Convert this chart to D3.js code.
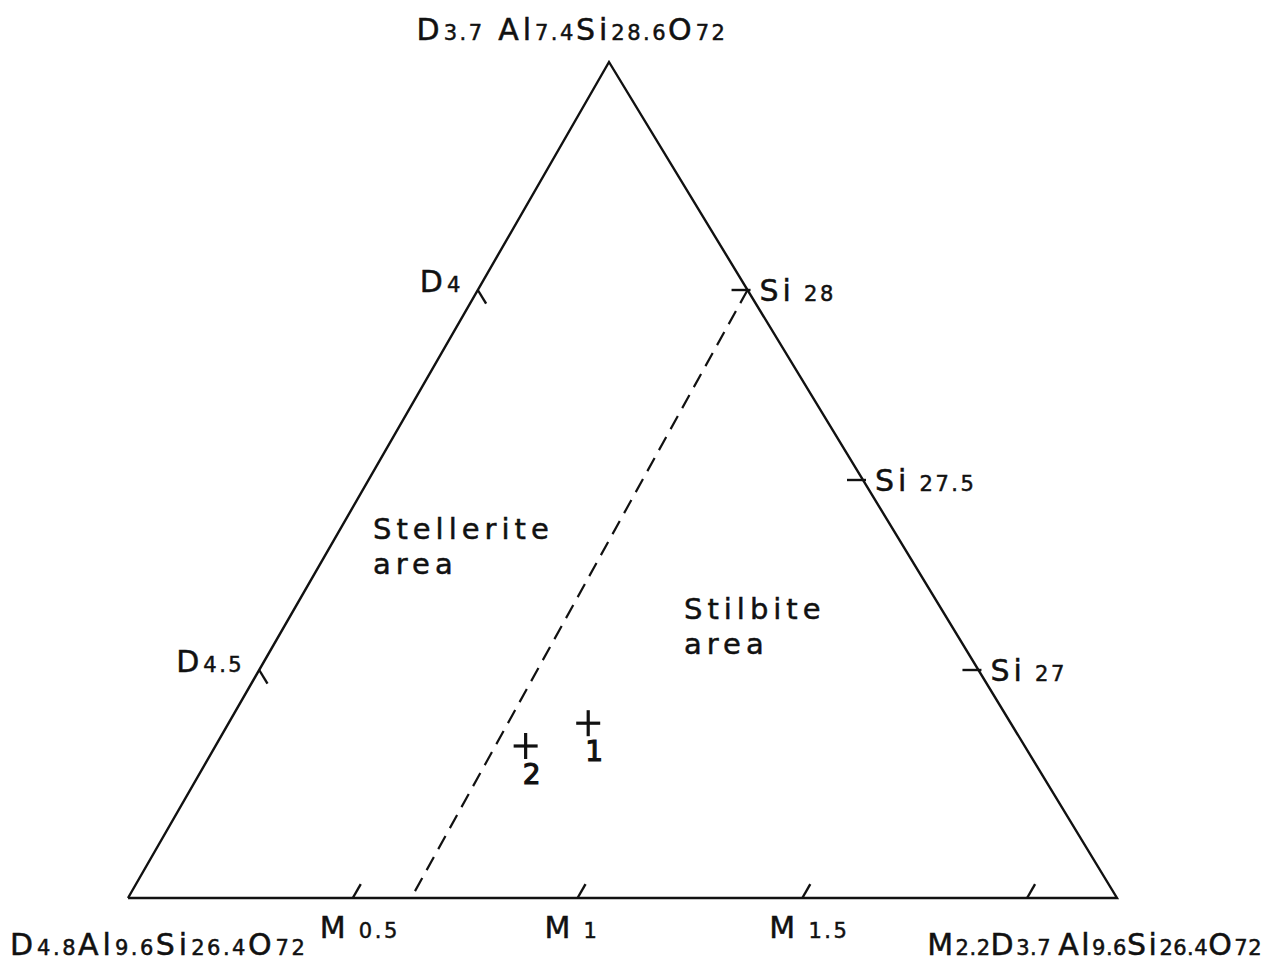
<!DOCTYPE html>
<html>
<head>
<meta charset="utf-8">
<script src="https://cdn.jsdelivr.net/npm/d3@7"></script>
<style>
  body { margin: 0; background: #fff; }
  text { font-family: "DejaVu Sans", sans-serif; fill: #111; stroke: #111; stroke-width: 0.5px; }
</style>
</head>
<body>
<div id="chart"></div>
<script>
// axis values along each side of the triangle
const mTicks = [0.5, 1, 1.5, 2];
const mTickLabels = ["0.5", "1", "1.5", ""];
const dTicks = [4.5, 4];
const dTickLabels = ["4.5", "4"];
const siTicks = [27, 27.5, 28];
const siTickLabels = ["27", "27.5", "28"];

// analysed samples (M and Si per 72 O)
const sampleIds = ["1", "2"];
const sampleM = [0.80, 0.69];
const sampleSi = [26.86, 26.80];

// stellerite / stilbite boundary
const boundaryM = [0.60, 0.63];
const boundarySi = [28, 26.4];

const width = 1266, height = 963;

// pixel corners: A bottom-left, B bottom-right, C top
const A = [128, 898], B = [1117, 898], C = [609, 62];

const sM = d3.scaleLinear().domain([0, 2.2]).range([0, 1]);     // weight of B
const sSi = d3.scaleLinear().domain([26.4, 28.6]).range([0, 1]); // weight of C
const sD = d3.scaleLinear().domain([3.7, 4.8]).range([0, 1]);    // weight of A

const BIG = 30, SMALL = 21;

function bary(a, b, c) {
    return [a * A[0] + b * B[0] + c * C[0], a * A[1] + b * B[1] + c * C[1]];
}
function proj(m, si) {
    const b = sM(m), c = sSi(si);
    return bary(1 - b - c, b, c);
}

const svg = d3.select("#chart")
    .append("svg")
    .attr("width", width)
    .attr("height", height);

// triangle
svg.append("path")
    .attr("d", d3.line()([A, B, C, A]))
    .attr("fill", "none")
    .attr("stroke", "#111")
    .attr("stroke-width", 2.4)
    .attr("stroke-linejoin", "miter");

function unit(p, q) {
    const dx = q[0] - p[0], dy = q[1] - p[1], l = Math.hypot(dx, dy);
    return [dx / l, dy / l];
}
const uAC = unit(A, C); // M ticks follow this
const uCB = unit(C, B); // D ticks follow this
const tickLen = 16;

// text with big letters and small numbers
function label(x, y, anchor, parts, ls = [4, 2.5]) {
    const t = svg.append("text")
        .attr("x", x).attr("y", y)
        .attr("text-anchor", anchor);
    parts.forEach(([s, sub]) => {
        t.append("tspan")
            .attr("font-size", sub ? SMALL : BIG)
            .attr("letter-spacing", sub ? ls[1] : ls[0])
            .text(s);
    });
    return t;
}

// M ticks on the base
mTicks.forEach((m, i) => {
    const p = bary(1 - sM(m), sM(m), 0);
    svg.append("line")
        .attr("x1", p[0]).attr("y1", p[1])
        .attr("x2", p[0] + uAC[0] * tickLen).attr("y2", p[1] + uAC[1] * tickLen)
        .attr("stroke", "#111").attr("stroke-width", 2.4);
    if (mTickLabels[i]) {
        label(p[0] - 33, p[1] + 40, "start", [["M", 0], [" ", 1], [mTickLabels[i], 1]]);
    }
});

// D ticks on the left side
dTicks.forEach((d, i) => {
    const a = sD(d);
    const p = bary(a, 0, 1 - a);
    svg.append("line")
        .attr("x1", p[0]).attr("y1", p[1])
        .attr("x2", p[0] + uCB[0] * tickLen).attr("y2", p[1] + uCB[1] * tickLen)
        .attr("stroke", "#111").attr("stroke-width", 2.4);
    label(p[0] - 15, p[1] + 2, "end", [["D", 0], [dTickLabels[i], 1]]);
});

// Si ticks on the right side
siTicks.forEach((s, i) => {
    const c = sSi(s);
    const p = bary(0, 1 - c, c);
    svg.append("line")
        .attr("x1", p[0] + 3).attr("y1", p[1])
        .attr("x2", p[0] - tickLen).attr("y2", p[1])
        .attr("stroke", "#111").attr("stroke-width", 2.4);
    label(p[0] + 12, p[1] + 11, "start", [["Si", 0], [" ", 1], [siTickLabels[i], 1]]);
});

// boundary
svg.append("path")
    .attr("d", d3.line()(boundaryM.map((m, i) => proj(m, boundarySi[i]))))
    .attr("fill", "none")
    .attr("stroke", "#111")
    .attr("stroke-width", 2.2)
    .attr("stroke-dasharray", "15,9");

// samples
sampleIds.forEach((id, i) => {
    const p = proj(sampleM[i], sampleSi[i]);
    const g = svg.append("g").attr("transform", `translate(${p[0]},${p[1]})`);
    g.append("line").attr("x1", -12).attr("x2", 12).attr("stroke", "#111").attr("stroke-width", 3.2);
    g.append("line").attr("y1", -13).attr("y2", 13).attr("stroke", "#111").attr("stroke-width", 3.2);
    g.append("text")
        .attr("x", 6).attr("y", 38)
        .attr("text-anchor", "middle")
        .attr("font-size", 28)
        .style("stroke-width", "1.2px")
        .text(id);
});

// area labels
function areaLabel(x, y, lines) {
    lines.forEach((s, i) => {
        svg.append("text")
            .attr("x", x).attr("y", y + i * 35)
            .attr("font-size", 29)
            .attr("letter-spacing", 5)
            .text(s);
    });
}
areaLabel(373, 539, ["Stellerite", "area"]);
areaLabel(684, 619, ["Stilbite", "area"]);

// end member formulas
label(572, 40, "middle",
    [["D", 0], ["3.7", 1], [" Al", 0], ["7.4", 1], ["Si", 0], ["28.6", 1], ["O", 0], ["72", 1]]);
label(10, 955, "start",
    [["D", 0], ["4.8", 1], ["Al", 0], ["9.6", 1], ["Si", 0], ["26.4", 1], ["O", 0], ["72", 1]]);
label(1262, 955, "end",
    [["M", 0], ["2.2", 1], ["D", 0], ["3.7", 1], [" ", 1], ["Al", 0], ["9.6", 1], ["Si", 0], ["26.4", 1], ["O", 0], ["72", 1]],
    [2.5, 0.5]);
</script>
</body>
</html>
